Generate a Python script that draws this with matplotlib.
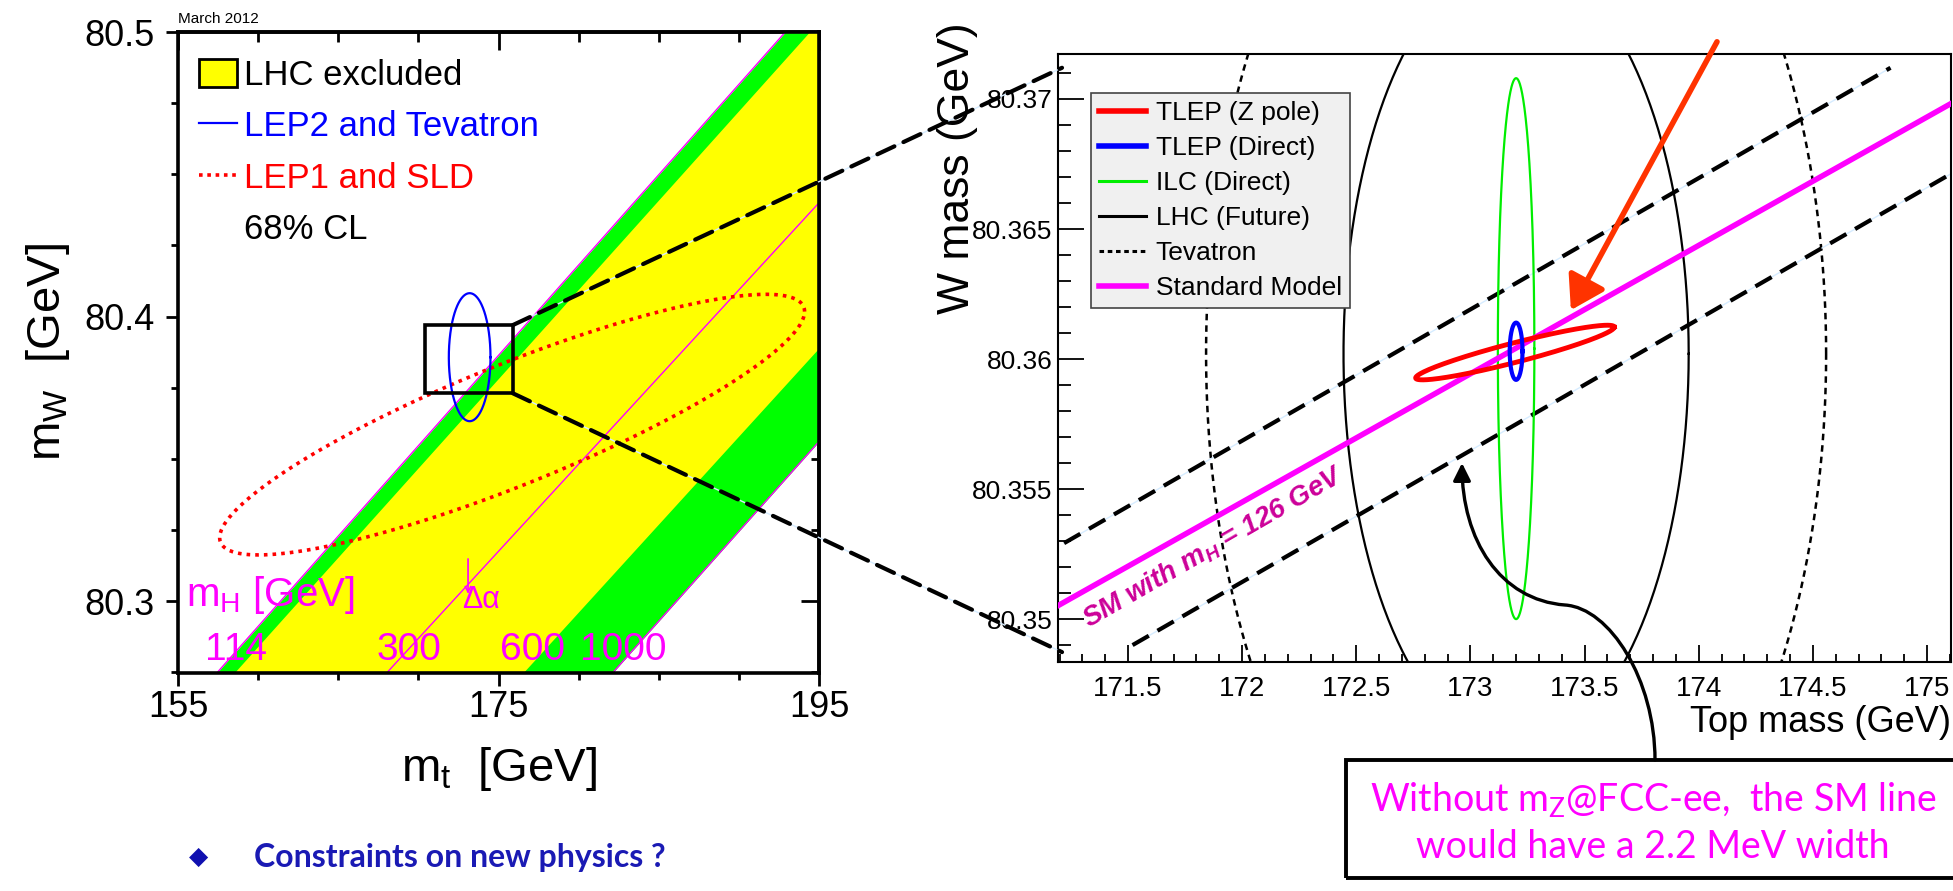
import numpy as np
import matplotlib
matplotlib.use('Agg')
import matplotlib.pyplot as plt
from matplotlib.patches import Rectangle, Patch, FancyArrowPatch, ConnectionPatch
from matplotlib.lines import Line2D
from matplotlib.path import Path
from matplotlib.ticker import MultipleLocator, NullFormatter

plt.rcParams['font.family'] = ['Liberation Sans', 'DejaVu Sans']
plt.rcParams['mathtext.fontset'] = 'custom'
plt.rcParams['mathtext.rm'] = 'Liberation Sans'
plt.rcParams['mathtext.it'] = 'Liberation Sans:italic:bold'
plt.rcParams['mathtext.sf'] = 'Lato'

# ---------------- left panel: mW vs mt, March 2012 ----------------
band_mw = [80.27, 80.50]            # mW at the two ends of the SM band lines
mt_mh114 = [156.68, 192.9]          # left edge of band (mH = 114)
mt_lhc_lo = [157.75, 194.4]         # start of LHC excluded region
mt_mh300 = [167.25, 204.8]
mt_lhc_hi = [175.76, 212.96]        # end of LHC excluded region
mt_mh1000 = [181.37, 217.8]         # right edge of band (mH = 1000)
mh_labels = ['114', '300', '600', '1000']
mh_label_mt = [158.6, 169.4, 177.1, 182.8]

# ellipses: centre mt, centre mW, half-width mt, half-height mW, tilt
lep2_tev = [173.2, 80.3857, 1.3, 0.0225, 0.0]
lep1_sld = [175.85, 80.362, 18.25, 0.0458, 1.05]

zoom_mt = [170.4, 175.9]
zoom_mw = [80.373, 80.397]

# ---------------- right panel: future precision ----------------
tev = [173.2, 80.3602, 1.358, 0.0229, 0.0]
lhc = [173.2, 80.3602, 0.756, 0.0152, 0.0]
ilc = [173.2, 80.3604, 0.08, 0.0104, 0.0]
tlep_direct = [173.2, 80.3603, 0.028, 0.0011, 0.0]
tlep_zpole = [173.195, 80.36025, 0.435, 0.00105, 1.195]

sm_mt = [171.19, 175.1]
sm_mw = [80.3505, 80.3698]
band_up_mt = [171.22, 174.84]
band_up_mw = [80.35292, 80.3712]
band_lo_mt = [171.52, 175.11]
band_lo_mw = [80.349, 80.36715]

x2_ticks = [171.5, 172, 172.5, 173, 173.5, 174, 174.5, 175]
x2_labels = ['171.5', '172', '172.5', '173', '173.5', '174', '174.5', '175']
y2_ticks = [80.35, 80.355, 80.36, 80.365, 80.37]
y2_labels = ['80.35', '80.355', '80.36', '80.365', '80.37']


def ellipse(cx, cy, a, b, tilt):
    t = np.linspace(0, 2 * np.pi, 500)
    return cx + a * np.cos(t), cy + b * np.sin(t + tilt)


W, H = 1953, 891
fig = plt.figure(figsize=(W / 100, H / 100), dpi=100)


def box(l, t, r, b):
    return [l / W, 1 - b / H, (r - l) / W, (b - t) / H]


def fp(x, y):
    return (x / W, 1 - y / H)


MAG = '#ff00ff'

# ---------------- left panel ----------------
ax1 = fig.add_axes(box(178, 32, 819, 673))
ax1.fill_betweenx(band_mw, mt_mh114, mt_mh1000, color='#00ff00', lw=0, zorder=1)
ax1.fill_betweenx(band_mw, mt_lhc_lo, mt_lhc_hi, color='#ffff00', lw=0, zorder=1.1)
for m in (mt_mh114, mt_mh300, mt_mh1000):
    ax1.plot(m, band_mw, color=MAG, lw=1, zorder=2)

x, y = ellipse(*lep1_sld)
ax1.plot(x, y, color='red', lw=2.6, ls=(0, (1, 1.4)), zorder=3)
x, y = ellipse(*lep2_tev)
ax1.plot(x, y, color='blue', lw=1.6, zorder=3)

ax1.add_patch(Rectangle((zoom_mt[0], zoom_mw[0]), zoom_mt[1] - zoom_mt[0],
                        zoom_mw[1] - zoom_mw[0], fill=False, lw=2.6,
                        ec='black', zorder=5))

ax1.text(155.5, 80.302, r'$\mathrm{m_H}$ [GeV]', color=MAG, fontsize=29,
         va='center', ha='left', zorder=6)
for lab, m in zip(mh_labels, mh_label_mt):
    ax1.text(m, 80.2828, lab, color=MAG, fontsize=28, ha='center',
             va='center', zorder=6)
ax1.annotate('', xy=(173.1, 80.3025), xytext=(173.1, 80.3148),
             arrowprops=dict(arrowstyle='->,head_length=0.4,head_width=0.2',
                             color=MAG, lw=1.2, shrinkA=0, shrinkB=0))
ax1.text(173.9, 80.3005, '\u0394\u03b1', color=MAG, fontsize=22,
         ha='center', va='center')

ax1.text(0, 1.009, 'March 2012', transform=ax1.transAxes, fontsize=11,
         va='bottom', ha='left')

handles = [Patch(facecolor='#ffff00', edgecolor='black', lw=2),
           Line2D([], [], color='blue', lw=1.6),
           Line2D([], [], color='red', lw=2.6, ls=(0, (1, 1.3))),
           Line2D([], [], color='none')]
labels = ['LHC excluded', 'LEP2 and Tevatron', 'LEP1 and SLD', '68% CL']
ax1.legend(handles, labels, loc='upper left', bbox_to_anchor=(0.0328, 0.958),
           frameon=False, fontsize=25, handlelength=1.1, handleheight=0.85,
           handletextpad=0.2, labelspacing=0.53, borderpad=0,
           borderaxespad=0, labelcolor=['black', 'blue', 'red', 'black'])

ax1.set_xlim(155, 195)
ax1.set_ylim(80.2747, 80.5)
ax1.set_xticks([155, 175, 195])
ax1.set_yticks([80.3, 80.4, 80.5])
ax1.set_yticklabels(['80.3', '80.4', '80.5'])
ax1.xaxis.set_minor_locator(MultipleLocator(5))
ax1.yaxis.set_minor_locator(MultipleLocator(0.025))
ax1.tick_params(which='both', direction='out', top=False, right=False,
                width=2, labelsize=26)
ax1.tick_params(which='major', length=9)
ax1.tick_params(which='minor', length=5)
ax1.tick_params(axis='x', pad=3)
ax1.tick_params(axis='y', pad=8)
for s in ax1.spines.values():
    s.set_linewidth(2.6)

sx = ax1.secondary_xaxis('top')
sx.set_xticks([155, 175, 195])
sx.xaxis.set_minor_locator(MultipleLocator(5))
sx.xaxis.set_major_formatter(NullFormatter())
sx.tick_params(which='both', direction='in', width=2)
sx.tick_params(which='major', length=13)
sx.tick_params(which='minor', length=7)
sx.spines['top'].set_linewidth(2.6)
sy = ax1.secondary_yaxis('right')
sy.set_yticks([80.3, 80.4, 80.5])
sy.yaxis.set_minor_locator(MultipleLocator(0.025))
sy.yaxis.set_major_formatter(NullFormatter())
sy.tick_params(which='both', direction='in', width=2)
sy.tick_params(which='major', length=13)
sy.tick_params(which='minor', length=6)
sy.spines['right'].set_linewidth(2.6)

ax1.set_xlabel(r'$\mathrm{m_t}$  [GeV]', fontsize=34)
ax1.xaxis.set_label_coords(0.5, -0.112)
ax1.xaxis.label.set_va('top')
ax1.set_ylabel(r'$\mathrm{m_W}$  [GeV]', fontsize=34)
ax1.yaxis.set_label_coords(-0.165, 0.5)

# ---------------- right panel ----------------
ax2 = fig.add_axes(box(1058, 54, 1951, 662))
x, y = ellipse(*tev)
ax2.plot(x, y, color='black', lw=1.8, ls=(0, (2.6, 2.0)))
x, y = ellipse(*lhc)
ax2.plot(x, y, color='black', lw=1.6)
for mt_, mw_ in ((band_up_mt, band_up_mw), (band_lo_mt, band_lo_mw)):
    ax2.plot(mt_, mw_, color='#d6ecff', lw=1, zorder=2)
    ax2.plot(mt_, mw_, color='black', lw=3, ls=(0, (4.5, 2.4)), zorder=2.1)
x, y = ellipse(*ilc)
ax2.plot(x, y, color='#00ee00', lw=1.6, zorder=3)
ax2.plot(sm_mt, sm_mw, color=MAG, lw=4, zorder=3.5)
x, y = ellipse(*tlep_zpole)
ax2.plot(x, y, color='#ff0000', lw=3.5, zorder=4)
x, y = ellipse(*tlep_direct)
ax2.plot(x, y, color='#0000ff', lw=3, zorder=4.5)

ax2.text(171.875, 80.35275, r'SM with $m_H$ = 126 GeV', rotation=30,
         rotation_mode='anchor', ha='center', va='center', fontsize=20,
         fontweight='bold', fontstyle='italic', color='#cc0099', zorder=6)

leg_handles = [Line2D([], [], color='#ff0000', lw=4),
               Line2D([], [], color='#0000ff', lw=4),
               Line2D([], [], color='#00ee00', lw=2.2),
               Line2D([], [], color='black', lw=2.2),
               Line2D([], [], color='black', lw=2.2, ls=(0, (1.5, 1.2))),
               Line2D([], [], color=MAG, lw=4)]
leg_labels = ['TLEP (Z pole)', 'TLEP (Direct)', 'ILC (Direct)',
              'LHC (Future)', 'Tevatron', 'Standard Model']
leg = ax2.legend(leg_handles, leg_labels, loc='upper left',
                 bbox_to_anchor=(0.037, 0.936), fontsize=19, fancybox=False,
                 framealpha=1, facecolor='#f0f0f0', edgecolor='#444444',
                 handlelength=1.8, handletextpad=0.35, labelspacing=0.42,
                 borderpad=0.3, borderaxespad=0)
leg.get_frame().set_linewidth(1.2)
leg.set_zorder(10)

ax2.set_xlim(171.1934, 175.105)
ax2.set_ylim(80.34835, 80.37173)
ax2.set_xticks(x2_ticks)
ax2.set_xticklabels(x2_labels)
ax2.set_yticks(y2_ticks)
ax2.set_yticklabels(y2_labels)
ax2.xaxis.set_minor_locator(MultipleLocator(0.1))
ax2.yaxis.set_minor_locator(MultipleLocator(0.001))
ax2.tick_params(which='both', direction='in', top=False, right=False, width=1.3)
ax2.tick_params(axis='x', which='major', length=12, labelsize=20, pad=10)
ax2.tick_params(axis='x', which='minor', length=5.5)
ax2.tick_params(axis='y', which='major', length=19, labelsize=19, pad=4)
ax2.tick_params(axis='y', which='minor', length=9.5)
for s in ax2.spines.values():
    s.set_linewidth(1.5)

ax2.set_xlabel('Top mass (GeV)', fontsize=26)
ax2.xaxis.set_label_coords(1.0, -0.0707)
ax2.xaxis.label.set_ha('right')
ax2.xaxis.label.set_va('top')
ax2.set_ylabel('W mass (GeV)', fontsize=32)
ax2.yaxis.set_label_coords(-0.0896, 1.0526)
ax2.yaxis.label.set_ha('right')

# red arrow pointing at the SM line
ax2.annotate('', xy=(173.44, 80.36188), xytext=(174.08, 80.3722),
             arrowprops=dict(arrowstyle='-|>,head_length=0.8,head_width=0.5',
                             color='#ff3300', lw=4, mutation_scale=25,
                             shrinkA=0, shrinkB=0),
             annotation_clip=False, zorder=8)

# ---------------- zoom connectors ----------------
for ya, yb in ((zoom_mw[1], 80.3712), (zoom_mw[0], 80.34873)):
    for col, lw, ls in (('#d6ecff', 1, '-'), ('black', 3, (0, (4.5, 2.4)))):
        con = ConnectionPatch(xyA=(zoom_mt[1], ya), coordsA='data', axesA=ax1,
                              xyB=(171.211, yb), coordsB='data', axesB=ax2,
                              color=col, lw=lw, ls=ls, zorder=7)
        fig.add_artist(con)

# ---------------- annotation box and curved arrow ----------------
verts = [fp(1655, 760), fp(1655, 680), fp(1610, 608), fp(1565, 605),
         fp(1500, 600), fp(1462, 540), fp(1462, 463)]
codes = [Path.MOVETO] + [Path.CURVE4] * 6
curve = FancyArrowPatch(path=Path(verts, codes),
                        arrowstyle='-|>,head_length=0.7,head_width=0.35',
                        mutation_scale=15, lw=2.4, color='black',
                        transform=fig.transFigure, zorder=9)
fig.add_artist(curve)

fig.add_artist(Rectangle(fp(1346, 878), (1965 - 1346) / W, (878 - 760) / H,
                         transform=fig.transFigure, fill=False, lw=2.8,
                         ec='black'))
fig.text(*fp(1653, 800), r'Without $\mathsf{m}_\mathsf{Z}$@FCC-ee,  the SM line',
         family=['Lato', 'DejaVu Sans'], fontsize=27, color=MAG,
         ha='center', va='center')
fig.text(*fp(1653, 847), 'would have a 2.2 MeV width',
         family=['Lato', 'DejaVu Sans'], fontsize=27, color=MAG,
         ha='center', va='center')

fig.text(*fp(199, 857), '\u25c6', color='#1010b0', fontsize=18,
         ha='center', va='center', family=['DejaVu Sans'])
fig.text(*fp(254, 857), 'Constraints on new physics ?',
         family=['Lato', 'DejaVu Sans'], fontweight='bold', fontsize=23,
         color='#1a1ab4', ha='left', va='center')

fig.savefig('out.png', dpi=100)
